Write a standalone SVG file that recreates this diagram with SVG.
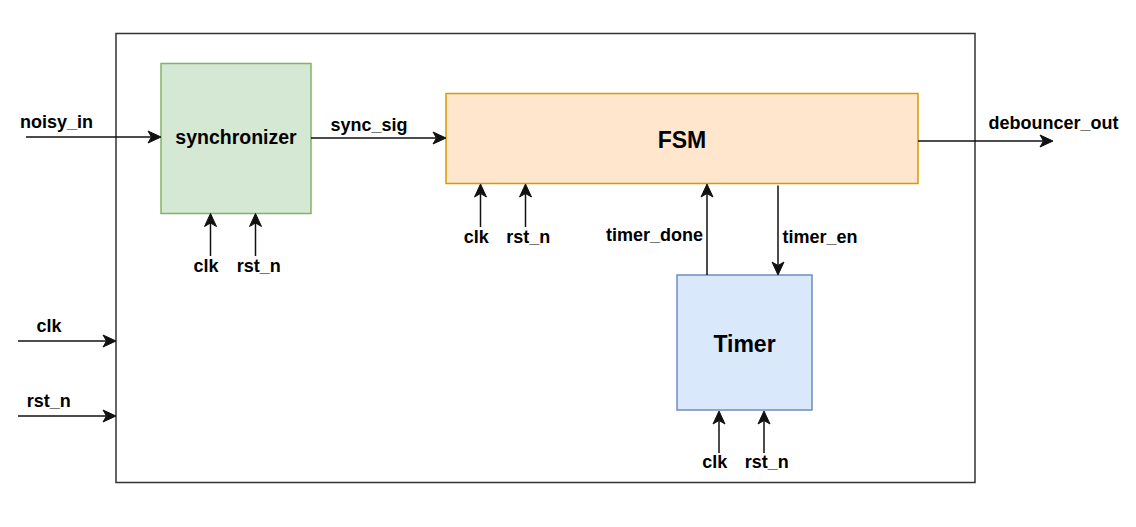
<svg xmlns="http://www.w3.org/2000/svg" width="1136" height="527" viewBox="0 0 1136 527">
<style>
text{font-family:"Liberation Sans",Arial,sans-serif;font-weight:bold;fill:#000;text-anchor:middle}
.lbl{font-size:18px}
.big{font-size:23px}
.wire{stroke:#111;stroke-width:1.5;fill:none;marker-end:url(#arr)}
</style>
<defs>
<marker id="arr" markerUnits="userSpaceOnUse" viewBox="-1 -7 15 14" markerWidth="15" markerHeight="14" refX="3.5" refY="0" orient="auto">
<path d="M0,-6 L13,0 L0,6 L3.5,0 Z" fill="#111" stroke="#111" stroke-width="1"/>
</marker>
</defs>
<rect width="1136" height="527" fill="#fff"/>
<g id="top">
<rect x="116" y="33.5" width="859" height="449" fill="#fff" stroke="#333" stroke-width="1.5"/>
</g>
<g id="synchronizer">
<rect x="161" y="63.5" width="150" height="150" fill="#d5e8d4" stroke="#82b366" stroke-width="1.5"/>
<text x="236" y="144" style="font-size:19.5px">synchronizer</text>
</g>
<g id="fsm">
<rect x="446" y="93.5" width="472" height="90" fill="#ffe6cc" stroke="#d79b00" stroke-width="1.5"/>
<text class="big" x="682" y="148">FSM</text>
</g>
<g id="timer">
<rect x="677" y="275" width="135" height="135" fill="#dae8fc" stroke="#6c8ebf" stroke-width="1.5"/>
<text class="big" x="744.5" y="352">Timer</text>
</g>
<g id="connectors">
<line class="wire" x1="26" y1="137" x2="151.5" y2="137"/>
<line class="wire" x1="311" y1="138" x2="436.5" y2="138"/>
<line class="wire" x1="918" y1="141" x2="1043.5" y2="141"/>
<line class="wire" x1="18" y1="341" x2="106.5" y2="341"/>
<line class="wire" x1="18" y1="416" x2="106.5" y2="416"/>
<line class="wire" x1="210.5" y1="256" x2="210.5" y2="223"/>
<line class="wire" x1="255.5" y1="256" x2="255.5" y2="223"/>
<line class="wire" x1="480.5" y1="227" x2="480.5" y2="193.5"/>
<line class="wire" x1="525.5" y1="227" x2="525.5" y2="193.5"/>
<line class="wire" x1="707" y1="275" x2="707" y2="193.5"/>
<line class="wire" x1="778" y1="185.5" x2="778" y2="265.5"/>
<line class="wire" x1="719" y1="453" x2="719" y2="420.5"/>
<line class="wire" x1="764" y1="453" x2="764" y2="420.5"/>
</g>
<g id="labels">
<text class="lbl" x="56.5" y="128">noisy_in</text>
<text class="lbl" x="369" y="131">sync_sig</text>
<text class="lbl" x="1053.5" y="129">debouncer_out</text>
<text class="lbl" x="49" y="332">clk</text>
<text class="lbl" x="48.7" y="407">rst_n</text>
<text class="lbl" x="206" y="272">clk</text>
<text class="lbl" x="258.7" y="272">rst_n</text>
<text class="lbl" x="476.3" y="243">clk</text>
<text class="lbl" x="528.3" y="243">rst_n</text>
<text class="lbl" x="654.5" y="241">timer_done</text>
<text class="lbl" x="820" y="243">timer_en</text>
<text class="lbl" x="714.7" y="468">clk</text>
<text class="lbl" x="766.7" y="468">rst_n</text>
</g>
</svg>
